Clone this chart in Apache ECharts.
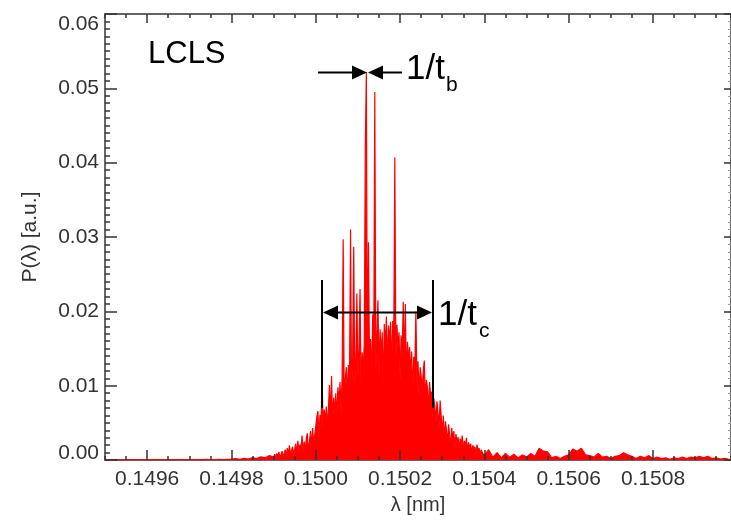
<!DOCTYPE html>
<html>
<head>
<meta charset="utf-8">
<script src="https://cdn.jsdelivr.net/npm/echarts@6/dist/echarts.min.js"></script>
<style>
html,body{margin:0;padding:0;background:#ffffff;}
#chart{width:731px;height:520px;}
</style>
</head>
<body>
<div id="chart"></div>
<script>
// ---- tick labels ----
const xMajorTicks = [0.1496, 0.1498, 0.1500, 0.1502, 0.1504, 0.1506, 0.1508];
const yMajorTicks = [0.00, 0.01, 0.02, 0.03, 0.04, 0.05, 0.06];

// ---- left tail of the spectrum (nm, a.u.) ----
const wlLeft = [
  0.14950,0.14951,0.14952,0.14953,0.14954,0.14955,0.14956,0.14957,0.14958,0.14959,
  0.14960,0.14961,0.14962,0.14963,0.14964,0.14965,0.14966,0.14967,0.14968,0.14969,
  0.14970,0.14971,0.14972,0.14973,0.14974,0.14975,0.14976,0.14977,0.14978,0.14979,
  0.14980,0.14981,0.14982,0.14983,0.14984,0.14985,0.14986,0.14987,0.14988,0.14989
];
const pLeft = [
  0.00005,0.00003,0.00006,0.00004,0.00005,0.00003,0.00005,0.00006,0.00004,0.00005,
  0.00003,0.00005,0.00004,0.00006,0.00005,0.00004,0.00006,0.00005,0.00007,0.00005,
  0.00006,0.00008,0.00005,0.00007,0.00009,0.00006,0.00008,0.00010,0.00007,0.00010,
  0.00012,0.00020,0.00010,0.00025,0.00015,0.00035,0.00020,0.00045,0.00030,0.00060
];

// ---- core of the spectrum (nm, a.u.) ----
const wlCore = [
  0.1499000,0.1499025,0.1499050,0.1499075,0.1499100,0.1499125,0.1499150,0.1499175,
  0.1499200,0.1499225,0.1499250,0.1499275,0.1499300,0.1499325,0.1499350,0.1499375,
  0.1499400,0.1499425,0.1499450,0.1499475,0.1499500,0.1499525,0.1499550,0.1499575,
  0.1499600,0.1499625,0.1499650,0.1499675,0.1499700,0.1499725,0.1499750,0.1499775,
  0.1499800,0.1499825,0.1499850,0.1499875,0.1499900,0.1499925,0.1499950,0.1499975,
  0.1500000,0.1500025,0.1500050,0.1500075,0.1500100,0.1500125,0.1500150,0.1500175,
  0.1500200,0.1500225,0.1500250,0.1500275,0.1500300,0.1500325,0.1500350,0.1500375,
  0.1500400,0.1500425,0.1500450,0.1500475,0.1500500,0.1500525,0.1500550,0.1500575,
  0.1500600,0.1500625,0.1500650,0.1500675,0.1500700,0.1500725,0.1500750,0.1500775,
  0.1500800,0.1500825,0.1500850,0.1500875,0.1500900,0.1500925,0.1500950,0.1500975,
  0.1501000,0.1501025,0.1501050,0.1501075,0.1501100,0.1501125,0.1501150,0.1501175,
  0.1501200,0.1501225,0.1501250,0.1501275,0.1501300,0.1501325,0.1501350,0.1501375,
  0.1501400,0.1501425,0.1501450,0.1501475,0.1501500,0.1501525,0.1501550,0.1501575,
  0.1501600,0.1501625,0.1501650,0.1501675,0.1501700,0.1501725,0.1501750,0.1501775,
  0.1501800,0.1501825,0.1501850,0.1501875,0.1501900,0.1501925,0.1501950,0.1501975,
  0.1502000,0.1502025,0.1502050,0.1502075,0.1502100,0.1502125,0.1502150,0.1502175,
  0.1502200,0.1502225,0.1502250,0.1502275,0.1502300,0.1502325,0.1502350,0.1502375,
  0.1502400,0.1502425,0.1502450,0.1502475,0.1502500,0.1502525,0.1502550,0.1502575,
  0.1502600,0.1502625,0.1502650,0.1502675,0.1502700,0.1502725,0.1502750,0.1502775,
  0.1502800,0.1502825,0.1502850,0.1502875,0.1502900,0.1502925,0.1502950,0.1502975,
  0.1503000,0.1503025,0.1503050,0.1503075,0.1503100,0.1503125,0.1503150,0.1503175,
  0.1503200,0.1503225,0.1503250,0.1503275,0.1503300,0.1503325,0.1503350,0.1503375,
  0.1503400,0.1503425,0.1503450,0.1503475,0.1503500,0.1503525,0.1503550,0.1503575,
  0.1503600,0.1503625,0.1503650,0.1503675,0.1503700,0.1503725,0.1503750,0.1503775,
  0.1503800,0.1503825,0.1503850,0.1503875,0.1503900,0.1503925,0.1503950,0.1503975,
  0.1504000
];
const pCore = [
  0.0004,0.0008,0.0003,0.0009,0.0005,0.0011,0.0004,0.0007,0.0012,0.0005,
  0.0009,0.0014,0.0006,0.0016,0.0008,0.0020,0.0007,0.0013,0.0018,0.0006,
  0.0015,0.0022,0.0009,0.0026,0.0012,0.0021,0.0016,0.0033,0.0010,0.0025,
  0.0014,0.0029,0.0036,0.0012,0.0024,0.0039,0.0018,0.0043,0.0022,0.0034,
  0.0046,0.0058,0.0066,0.0031,0.0061,0.0044,0.0115,0.0039,0.0068,0.0052,
  0.0072,0.0045,0.0069,0.0101,0.0058,0.0113,0.0049,0.0084,0.0066,0.0090,
  0.0058,0.0098,0.0077,0.0105,0.0063,0.0112,0.0297,0.0079,0.0109,0.0125,
  0.0088,0.0128,0.0101,0.0310,0.0079,0.0139,0.0287,0.0098,0.0136,0.0224,
  0.0112,0.0148,0.0230,0.0093,0.0145,0.0121,0.0156,0.0420,0.0522,0.0107,
  0.0293,0.0131,0.0163,0.0102,0.0196,0.0141,0.0495,0.0118,0.0168,0.0215,
  0.0112,0.0176,0.0141,0.0172,0.0098,0.0183,0.0152,0.0193,0.0126,0.0181,
  0.0159,0.0186,0.0121,0.0187,0.0165,0.0407,0.0138,0.0182,0.0151,0.0172,
  0.0108,0.0168,0.0139,0.0213,0.0126,0.0210,0.0101,0.0159,0.0133,0.0152,
  0.0117,0.0146,0.0089,0.0139,0.0124,0.0200,0.0102,0.0133,0.0087,0.0125,
  0.0112,0.0094,0.0121,0.0134,0.0078,0.0108,0.0097,0.0069,0.0105,0.0086,
  0.0092,0.0061,0.0083,0.0072,0.0051,0.0079,0.0063,0.0045,0.0080,0.0059,
  0.0036,0.0060,0.0027,0.0052,0.0041,0.0022,0.0048,0.0034,0.0019,0.0043,
  0.0028,0.0039,0.0016,0.0035,0.0024,0.0031,0.0014,0.0029,0.0021,0.0033,
  0.0013,0.0026,0.0019,0.0030,0.0011,0.0024,0.0017,0.0022,0.0009,0.0020,
  0.0015,0.0018,0.0008,0.0021,0.0012,0.0016,0.0007,0.0014,0.0010,0.0012,
  0.0006
];

// ---- right tail of the spectrum (nm, a.u.) ----
const wlRight = [
  0.15041,0.15042,0.15043,0.15044,0.15045,0.15046,0.15047,0.15048,0.15049,0.15050,
  0.15051,0.15052,0.15053,0.15054,0.15055,0.15056,0.15057,0.15058,0.15059,0.15060,
  0.15061,0.15062,0.15063,0.15064,0.15065,0.15066,0.15067,0.15068,0.15069,0.15070,
  0.15071,0.15072,0.15073,0.15074,0.15075,0.15076,0.15077,0.15078,0.15079,0.15080,
  0.15081,0.15082,0.15083,0.15084,0.15085,0.15086,0.15087,0.15088,0.15089,0.15090,
  0.15091,0.15092,0.15093,0.15094,0.15095,0.15096,0.15097,0.15098
];
const pRight = [
  0.0014,0.0004,0.0010,0.0003,0.0009,0.0004,0.0008,0.0003,0.0007,0.0004,
  0.0009,0.0005,0.0016,0.0012,0.0011,0.0003,0.0005,0.0002,0.0005,0.0007,
  0.0015,0.0012,0.0016,0.0007,0.0006,0.0004,0.0009,0.0004,0.0005,0.0002,
  0.0005,0.0006,0.0010,0.0007,0.0005,0.0002,0.0005,0.0003,0.0006,0.0002,
  0.0004,0.0002,0.0003,0.0001,0.0003,0.0002,0.0004,0.0002,0.0004,0.0003,
  0.0005,0.0003,0.0005,0.0002,0.0003,0.00015,0.00025,0.0001
];

// ---- build series data ----
const wavelength = wlLeft.concat(wlCore, wlRight);
const power = pLeft.concat(pCore, pRight);
const spectrum = wavelength.map((w, i) => [w, power[i]]);

const FONT = '"Liberation Sans", Arial, Helvetica, sans-serif';
const AXIS_COLOR = '#666666';
const TICK_COLOR = '#333333';
const X_MIN = 0.1495, X_MAX = 0.150985;

function xAxisDef(pos, kind) {
  // kind: 'major' (ticks + labels), 'minor' (small ticks), 'line' (axis line only)
  const a = {
    type: 'value', position: pos, min: X_MIN, max: X_MAX,
    axisLine: { show: kind === 'line', onZero: false, lineStyle: { color: AXIS_COLOR, width: 2 } },
    splitLine: { show: false },
    axisLabel: { show: false },
    axisTick: { show: false },
    z: kind === 'line' ? 1 : 5
  };
  if (kind === 'major') {
    a.axisTick = { show: true, inside: true, length: pos === 'bottom' ? 10 : 9, customValues: xMajorTicks,
                   lineStyle: { color: TICK_COLOR, width: 1.5 } };
    if (pos === 'bottom') {
      a.axisLabel = { show: true, customValues: xMajorTicks, margin: 9,
                      formatter: v => v.toFixed(4), fontFamily: FONT, fontSize: 21, color: '#333' };
    }
  } else if (kind === 'minor') {
    a.interval = 0.00005;
    a.axisTick = { show: true, inside: true, length: 4, lineStyle: { color: TICK_COLOR, width: 1.5 } };
  }
  return a;
}

const chart = echarts.init(document.getElementById('chart'), null, { renderer: 'canvas' });
chart.setOption({
  animation: false,
  backgroundColor: '#ffffff',
  grid: { left: 105, right: 0, top: 14, bottom: 57, containLabel: false },
  xAxis: [
    Object.assign(xAxisDef('bottom', 'major'), {
      name: 'λ [nm]', nameLocation: 'middle', nameGap: 33,
      nameTextStyle: { fontFamily: FONT, fontSize: 20, color: '#333' }
    }),
    xAxisDef('bottom', 'minor'),
    xAxisDef('bottom', 'line'),
    Object.assign(xAxisDef('top', 'major'), { axisLine: { show: true, onZero: false, lineStyle: { color: AXIS_COLOR, width: 2 } } }),
    xAxisDef('top', 'minor')
  ],
  yAxis: [
    {
      type: 'value', position: 'left', min: 0, max: 0.06, interval: 0.01,
      name: 'P(λ) [a.u.]', nameLocation: 'middle', nameGap: 64,
      nameTextStyle: { fontFamily: FONT, fontSize: 21, color: '#333' },
      axisLine: { show: true, onZero: false, lineStyle: { color: AXIS_COLOR, width: 2 } },
      axisTick: { show: true, inside: true, length: 12, lineStyle: { color: TICK_COLOR, width: 1.5 } },
      minorTick: { show: true, splitNumber: 10, length: 5, lineStyle: { color: TICK_COLOR, width: 1.5 } },
      axisLabel: {
        show: true, margin: 6, fontFamily: FONT, fontSize: 21, color: '#333',
        formatter: v => (v === 0 ? '{lo|' + v.toFixed(2) + '}' : v.toFixed(2)),
        verticalAlignMaxLabel: 'top',
        rich: { lo: { fontFamily: FONT, fontSize: 21, color: '#333', padding: [0, 0, 14, 0] } }
      },
      splitLine: { show: false }, minorSplitLine: { show: false },
      z: 5
    },
    {
      type: 'value', position: 'right', min: 0, max: 0.06, interval: 0.01,
      axisLine: { show: true, onZero: false, lineStyle: { color: AXIS_COLOR, width: 2 } },
      axisTick: { show: true, inside: true, length: 7, lineStyle: { color: TICK_COLOR, width: 1.5 } },
      minorTick: { show: true, splitNumber: 10, length: 3, lineStyle: { color: '#999', width: 1 } },
      axisLabel: { show: false },
      splitLine: { show: false }, minorSplitLine: { show: false },
      z: 5
    }
  ],
  series: [{
    type: 'line',
    xAxisIndex: 0, yAxisIndex: 0,
    data: spectrum,
    showSymbol: false,
    symbol: 'none',
    lineStyle: { color: '#ff0000', width: 1.2 },
    areaStyle: { color: '#ff0000', opacity: 1 },
    z: 2
  }],
  graphic: [
    { type: 'text', x: 148, y: 54, style: { text: 'LCLS', font: '31px ' + FONT, fill: '#000',
      align: 'left', verticalAlign: 'middle', textAlign: 'left', textVerticalAlign: 'middle' }, z: 20 },
    // 1/t_b arrows
    { type: 'line', shape: { x1: 318, y1: 72.5, x2: 353, y2: 72.5 }, style: { stroke: '#000', lineWidth: 2 }, z: 20 },
    { type: 'polygon', shape: { points: [[352, 65.5], [367, 72.5], [352, 79.5]] }, style: { fill: '#000' }, z: 20 },
    { type: 'line', shape: { x1: 382, y1: 72.5, x2: 402, y2: 72.5 }, style: { stroke: '#000', lineWidth: 2 }, z: 20 },
    { type: 'polygon', shape: { points: [[383, 65.5], [368, 72.5], [383, 79.5]] }, style: { fill: '#000' }, z: 20 },
    { type: 'text', x: 406, y: 69.5, style: { text: '1/t', font: '35px ' + FONT, fill: '#000',
      align: 'left', verticalAlign: 'middle', textAlign: 'left', textVerticalAlign: 'middle' }, z: 20 },
    { type: 'text', x: 446, y: 85, style: { text: 'b', font: '21px ' + FONT, fill: '#000',
      align: 'left', verticalAlign: 'middle', textAlign: 'left', textVerticalAlign: 'middle' }, z: 20 },
    // 1/t_c bracket
    { type: 'line', shape: { x1: 322, y1: 280, x2: 322, y2: 408 }, style: { stroke: '#000', lineWidth: 2 }, z: 20 },
    { type: 'line', shape: { x1: 433, y1: 280, x2: 433, y2: 408 }, style: { stroke: '#000', lineWidth: 2 }, z: 20 },
    { type: 'line', shape: { x1: 336, y1: 312.5, x2: 419, y2: 312.5 }, style: { stroke: '#000', lineWidth: 2 }, z: 20 },
    { type: 'polygon', shape: { points: [[323, 312.5], [338, 305.5], [338, 319.5]] }, style: { fill: '#000' }, z: 20 },
    { type: 'polygon', shape: { points: [[432, 312.5], [417, 305.5], [417, 319.5]] }, style: { fill: '#000' }, z: 20 },
    { type: 'text', x: 438, y: 315.5, style: { text: '1/t', font: '35px ' + FONT, fill: '#000',
      align: 'left', verticalAlign: 'middle', textAlign: 'left', textVerticalAlign: 'middle' }, z: 20 },
    { type: 'text', x: 479, y: 331, style: { text: 'c', font: '21px ' + FONT, fill: '#000',
      align: 'left', verticalAlign: 'middle', textAlign: 'left', textVerticalAlign: 'middle' }, z: 20 }
  ]
});
</script>
</body>
</html>
